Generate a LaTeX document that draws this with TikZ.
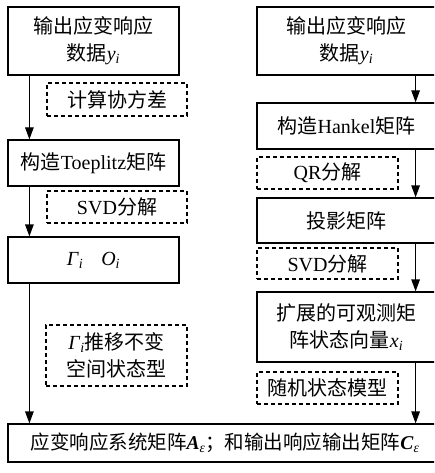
\documentclass[tikz,border=0pt]{standalone}
\usepackage{fontspec}
\setmainfont{Liberation Serif}
\newfontfamily\cjk{Noto Sans CJK SC}
\usetikzlibrary{arrows.meta}
\newcommand{\sub}[1]{\textsubscript{\textit{#1}}}
\tikzset{
  solidbox/.style={draw, line width=1.2pt, rectangle, inner sep=0pt, align=center,
    font=\fontsize{20}{27}\selectfont},
  dashbox/.style={draw, line width=1.2pt, dash pattern=on 4pt off 3pt, rectangle, inner sep=0pt, align=center,
    font=\fontsize{20}{27}\selectfont},
  arr/.style={line width=1.2pt, -{Triangle[length=12pt,width=8.5pt]}}
}
\begin{document}
\begin{tikzpicture}[x=1pt,y=-1pt]
\path[use as bounding box, clip] (0,0) rectangle (434,473);
% left column
\node[solidbox, minimum width=171pt, minimum height=68pt] (L1) at (93.5,41) {{\cjk 输出应变响应}\\{\cjk 数据}\textit{y}\sub{i}};
\node[dashbox, minimum width=140pt, minimum height=33pt] (D1) at (117,99.5) {\cjk 计算协方差};
\node[solidbox, minimum width=171pt, minimum height=46pt] (L2) at (93.5,163) {{\cjk 构造}Toeplitz{\cjk 矩阵}};
\node[dashbox, minimum width=140pt, minimum height=32pt] (D2) at (117,207) {SVD{\cjk 分解}};
\node[solidbox, minimum width=171pt, minimum height=46pt] (L3) at (93.5,260) {\textit{Γ}\sub{i}\hspace{18pt}\textit{O}\sub{i}};
\node[dashbox, minimum width=141pt, minimum height=61pt] (D3) at (116.5,355.5) {\textit{Γ}\sub{i}{\cjk 推移不变}\\{\cjk 空间状态型}};
% right column
\node[solidbox, minimum width=179pt, minimum height=68pt] (R1) at (346.5,41) {{\cjk 输出应变响应}\\{\cjk 数据}\textit{y}\sub{i}};
\node[solidbox, minimum width=179pt, minimum height=46pt] (R2) at (346.5,126) {{\cjk 构造}Hankel{\cjk 矩阵}};
\node[dashbox, minimum width=141pt, minimum height=32pt] (RD1) at (327.5,173) {QR{\cjk 分解}};
\node[solidbox, minimum width=179pt, minimum height=45pt] (R3) at (346.5,220.5) {\cjk 投影矩阵};
\node[dashbox, minimum width=141pt, minimum height=31pt] (RD2) at (327.5,263.5) {SVD{\cjk 分解}};
\node[solidbox, minimum width=179pt, minimum height=70pt] (R4) at (346.5,327) {{\cjk 扩展的可观测矩}\\{\cjk 阵状态向量}\textit{x}\sub{i}};
\node[dashbox, minimum width=141pt, minimum height=32pt] (RD3) at (327.5,388) {\cjk 随机状态模型};
% bottom
\node[solidbox, minimum width=428pt, minimum height=38pt, font=\fontsize{19.5}{27}\selectfont] (B) at (222,443) {\hspace{6pt}{\cjk 应变响应系统矩阵}\textbf{\textit{A}}\sub{ε}{\cjk ；和输出响应输出矩阵}\textbf{\textit{C}}\sub{ε}};
% arrows left
\draw[arr] ([xshift=22pt]L1.south west) -- ([xshift=22pt]L2.north west);
\draw[arr] ([xshift=22pt]L2.south west) -- ([xshift=22pt]L3.north west);
\draw[arr] ([xshift=22pt]L3.south west) -- ([xshift=22pt]L3.south west |- B.north);
% arrows right
\draw[arr] ([xshift=-21pt]R1.south east) -- ([xshift=-21pt]R2.north east);
\draw[arr] ([xshift=-21pt]R2.south east) -- ([xshift=-21pt]R3.north east);
\draw[arr] ([xshift=-21pt]R3.south east) -- ([xshift=-21pt]R4.north east);
\draw[arr] ([xshift=-21pt]R4.south east) -- ([xshift=-21pt]R4.south east |- B.north);
\end{tikzpicture}
\end{document}
